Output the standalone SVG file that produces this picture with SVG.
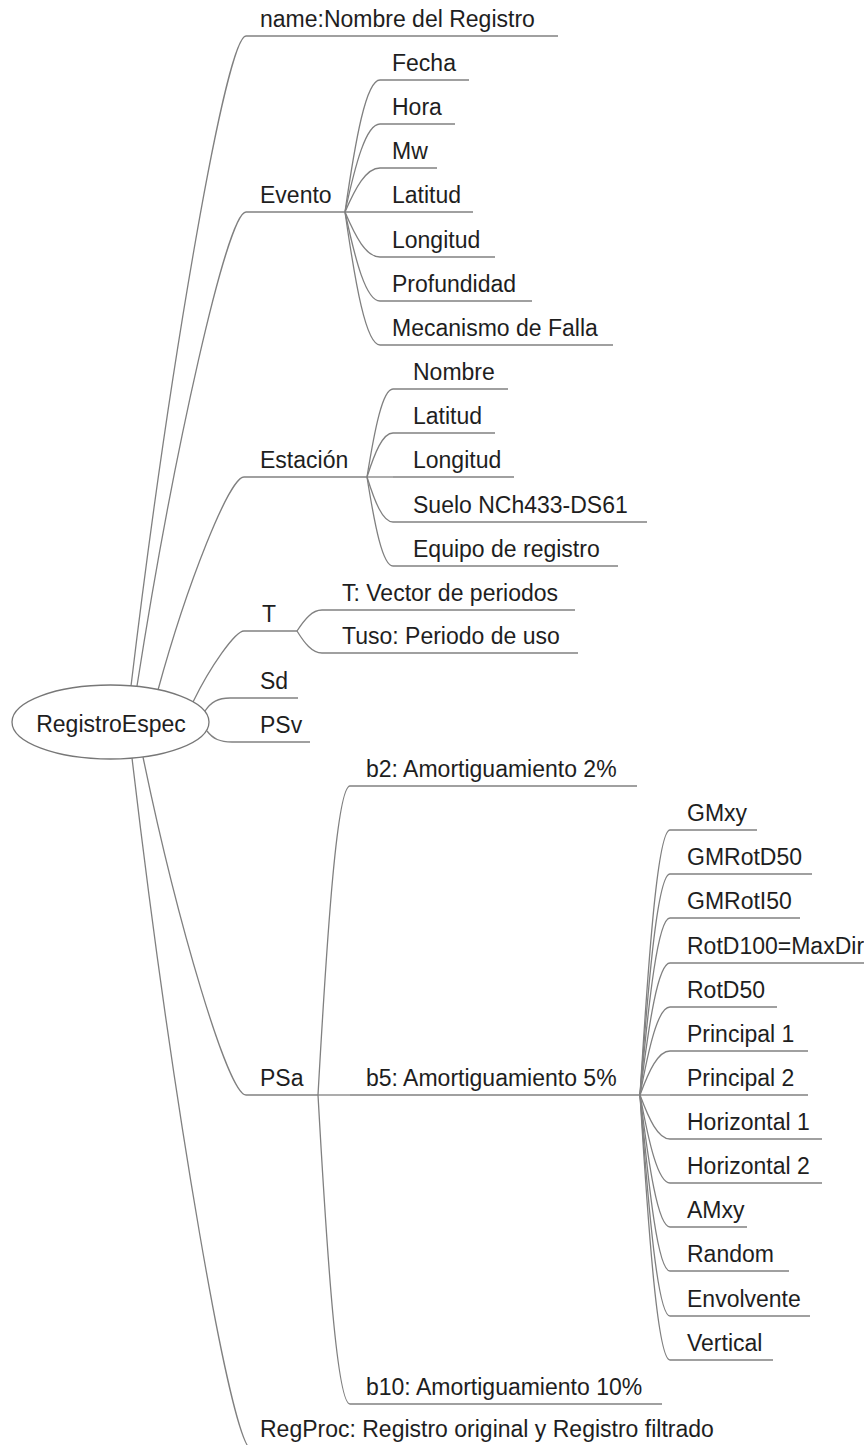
<svg xmlns="http://www.w3.org/2000/svg" width="864" height="1445" viewBox="0 0 864 1445">
<style>
text{font-family:"Liberation Sans",Arial,sans-serif;font-size:23px;fill:#1e1e1e}
.u{stroke:#808080;stroke-width:1.3;fill:none}
.c{stroke:#808080;stroke-width:1.3;fill:none}
.root{fill:#ffffff;stroke:#777777;stroke-width:1.3}
</style>
<rect width="864" height="1445" fill="#ffffff"/>
<g id="connectors">
<path class="c" d="M131,686 C170.1,361 226.45,36 246,36"/>
<path class="c" d="M137,686 C174.06,449 227.47,212 246,212"/>
<path class="c" d="M158,690 C187.2,583.5 229.4,477 244,477"/>
<path class="c" d="M193,702 C210.3,666.5 235.3,631 244,631"/>
<path class="c" d="M205,711 C211,702 218,698 230,698"/>
<path class="c" d="M207,731 C213,739 220,742 232,742"/>
<path class="c" d="M143,757 C178,926 228.5,1095 246,1095"/>
<path class="c" d="M132,758 C172.8,1104 231.6,1450 252,1450"/>
<path class="c" d="M345,212 C355.5,139.4 366,80 380,80"/>
<path class="c" d="M345,212 C355.5,163.6 366,124 380,124"/>
<path class="c" d="M345,212 C355.5,187.8 366,168 380,168"/>
<path class="c" d="M345,212 L380,212"/>
<path class="c" d="M345,212 C355.5,236.75 366,257 380,257"/>
<path class="c" d="M345,212 C355.5,260.95 366,301 380,301"/>
<path class="c" d="M345,212 C355.5,285.15 366,345 380,345"/>
<path class="c" d="M367,477 C374.8,428.6 382.6,389 393,389"/>
<path class="c" d="M367,477 C374.8,452.8 382.6,433 393,433"/>
<path class="c" d="M367,477 L393,477"/>
<path class="c" d="M367,477 C374.8,501.75 382.6,522 393,522"/>
<path class="c" d="M367,477 C374.8,525.95 382.6,566 393,566"/>
<path class="c" d="M297,631 C304.5,619.45 312,610 322,610"/>
<path class="c" d="M297,631 C304.5,643.1 312,653 322,653"/>
<path class="c" d="M318,1095 C327.6,925.05 337.2,786 350,786"/>
<path class="c" d="M318,1095 L350,1095"/>
<path class="c" d="M318,1095 C327.6,1264.95 337.2,1404 350,1404"/>
<path class="c" d="M640,1095 C649,949.25 658,830 670,830"/>
<path class="c" d="M640,1095 C649,973.45 658,874 670,874"/>
<path class="c" d="M640,1095 C649,997.65 658,918 670,918"/>
<path class="c" d="M640,1095 C649,1022.4 658,963 670,963"/>
<path class="c" d="M640,1095 C649,1046.6 658,1007 670,1007"/>
<path class="c" d="M640,1095 C649,1070.8 658,1051 670,1051"/>
<path class="c" d="M640,1095 L670,1095"/>
<path class="c" d="M640,1095 C649,1119.2 658,1139 670,1139"/>
<path class="c" d="M640,1095 C649,1143.4 658,1183 670,1183"/>
<path class="c" d="M640,1095 C649,1167.6 658,1227 670,1227"/>
<path class="c" d="M640,1095 C649,1191.8 658,1271 670,1271"/>
<path class="c" d="M640,1095 C649,1216.55 658,1316 670,1316"/>
<path class="c" d="M640,1095 C649,1240.75 658,1360 670,1360"/>
</g>
<g id="root"><ellipse class="root" cx="110.5" cy="722" rx="98.5" ry="37"/><text x="111" y="732" text-anchor="middle">RegistroEspec</text></g>
<g id="name"><line class="u" x1="246" y1="36" x2="558" y2="36"/><text x="260" y="27">name:Nombre del Registro</text></g>
<g id="evento"><line class="u" x1="246" y1="212" x2="345" y2="212"/><text x="260" y="203">Evento</text></g>
<g id="ev-fecha"><line class="u" x1="380" y1="80" x2="469" y2="80"/><text x="392" y="71">Fecha</text></g>
<g id="ev-hora"><line class="u" x1="380" y1="124" x2="455" y2="124"/><text x="392" y="115">Hora</text></g>
<g id="ev-mw"><line class="u" x1="380" y1="168" x2="437" y2="168"/><text x="392" y="159">Mw</text></g>
<g id="ev-latitud"><line class="u" x1="380" y1="212" x2="473" y2="212"/><text x="392" y="203">Latitud</text></g>
<g id="ev-longitud"><line class="u" x1="380" y1="257" x2="495" y2="257"/><text x="392" y="248">Longitud</text></g>
<g id="ev-profundidad"><line class="u" x1="380" y1="301" x2="532" y2="301"/><text x="392" y="292">Profundidad</text></g>
<g id="ev-mecanismo"><line class="u" x1="380" y1="345" x2="613" y2="345"/><text x="392" y="336">Mecanismo de Falla</text></g>
<g id="estacion"><line class="u" x1="244" y1="477" x2="367" y2="477"/><text x="260" y="468">Estación</text></g>
<g id="es-nombre"><line class="u" x1="393" y1="389" x2="508" y2="389"/><text x="413" y="380">Nombre</text></g>
<g id="es-latitud"><line class="u" x1="393" y1="433" x2="495" y2="433"/><text x="413" y="424">Latitud</text></g>
<g id="es-longitud"><line class="u" x1="393" y1="477" x2="514" y2="477"/><text x="413" y="468">Longitud</text></g>
<g id="es-suelo"><line class="u" x1="393" y1="522" x2="647" y2="522"/><text x="413" y="513">Suelo NCh433-DS61</text></g>
<g id="es-equipo"><line class="u" x1="393" y1="566" x2="618" y2="566"/><text x="413" y="557">Equipo de registro</text></g>
<g id="t"><line class="u" x1="244" y1="631" x2="297" y2="631"/><text x="262" y="622">T</text></g>
<g id="t-vector"><line class="u" x1="322" y1="610" x2="575" y2="610"/><text x="342" y="601">T: Vector de periodos</text></g>
<g id="t-tuso"><line class="u" x1="322" y1="653" x2="578" y2="653"/><text x="342" y="644">Tuso: Periodo de uso</text></g>
<g id="sd"><line class="u" x1="230" y1="698" x2="298" y2="698"/><text x="260" y="689">Sd</text></g>
<g id="psv"><line class="u" x1="232" y1="742" x2="310" y2="742"/><text x="260" y="733">PSv</text></g>
<g id="psa"><line class="u" x1="246" y1="1095" x2="318" y2="1095"/><text x="260" y="1086">PSa</text></g>
<g id="b2"><line class="u" x1="350" y1="786" x2="637" y2="786"/><text x="366" y="777">b2: Amortiguamiento 2%</text></g>
<g id="b5"><line class="u" x1="350" y1="1095" x2="640" y2="1095"/><text x="366" y="1086">b5: Amortiguamiento 5%</text></g>
<g id="b10"><line class="u" x1="350" y1="1404" x2="662" y2="1404"/><text x="366" y="1395">b10: Amortiguamiento 10%</text></g>
<g id="b5-gmxy"><line class="u" x1="670" y1="830" x2="757" y2="830"/><text x="687" y="821">GMxy</text></g>
<g id="b5-gmrotd50"><line class="u" x1="670" y1="874" x2="812" y2="874"/><text x="687" y="865">GMRotD50</text></g>
<g id="b5-gmroti50"><line class="u" x1="670" y1="918" x2="800" y2="918"/><text x="687" y="909">GMRotI50</text></g>
<g id="b5-rotd100"><line class="u" x1="670" y1="963" x2="880" y2="963"/><text x="687" y="954">RotD100=MaxDir</text></g>
<g id="b5-rotd50"><line class="u" x1="670" y1="1007" x2="777" y2="1007"/><text x="687" y="998">RotD50</text></g>
<g id="b5-principal1"><line class="u" x1="670" y1="1051" x2="808" y2="1051"/><text x="687" y="1042">Principal 1</text></g>
<g id="b5-principal2"><line class="u" x1="670" y1="1095" x2="808" y2="1095"/><text x="687" y="1086">Principal 2</text></g>
<g id="b5-horizontal1"><line class="u" x1="670" y1="1139" x2="822" y2="1139"/><text x="687" y="1130">Horizontal 1</text></g>
<g id="b5-horizontal2"><line class="u" x1="670" y1="1183" x2="822" y2="1183"/><text x="687" y="1174">Horizontal 2</text></g>
<g id="b5-amxy"><line class="u" x1="670" y1="1227" x2="747" y2="1227"/><text x="687" y="1218">AMxy</text></g>
<g id="b5-random"><line class="u" x1="670" y1="1271" x2="789" y2="1271"/><text x="687" y="1262">Random</text></g>
<g id="b5-envolvente"><line class="u" x1="670" y1="1316" x2="810" y2="1316"/><text x="687" y="1307">Envolvente</text></g>
<g id="b5-vertical"><line class="u" x1="670" y1="1360" x2="773" y2="1360"/><text x="687" y="1351">Vertical</text></g>
<g id="regproc"><line class="u" x1="252" y1="1450" x2="730" y2="1450"/><text x="260" y="1437">RegProc: Registro original y Registro filtrado</text></g>
</svg>
